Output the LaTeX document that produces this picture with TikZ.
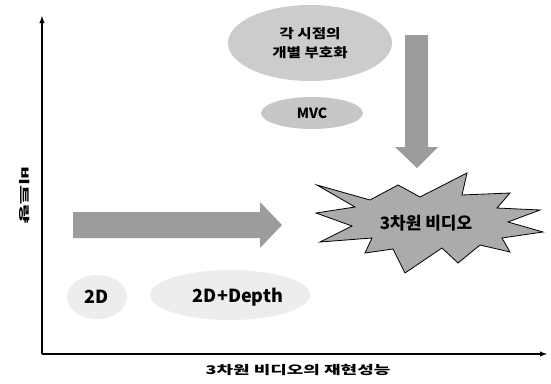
\documentclass[tikz,border=0pt]{standalone}
\usepackage{fontspec}
\setmainfont{Noto Sans CJK KR}
\usepackage{tikz}
\usetikzlibrary{shapes.geometric}

\tikzset{
  blob/.style={ellipse, fill=gray!40, inner sep=0pt},
  faint/.style={ellipse, fill=gray!14, inner sep=0pt},
  bigarrow/.style={fill=gray!78},
  label/.style={font=\bfseries\fontsize{#1}{#1}\selectfont},
  label/.default=12
}

\begin{document}
\begin{tikzpicture}[x=1pt,y=-1pt]
\useasboundingbox (0,0) rectangle (551,383) ;

\draw [line width=1.4pt, -{latex}] (42,354) -- (42,16) ;
\draw [line width=1.4pt, -{latex}] (42,354) -- (547,354) ;
\draw node (ylab) at (25,195) [rotate=-90, xscale=1.9, label=11] {비트량} ;
\draw node (xlab) at (298,370) [xscale=1.5, label=12] {3차원 비디오의 재현성능} ;

\draw node (each) at (310,43) [blob, minimum width=164, minimum height=76] {} ;
\draw node (eachtxt) at (310,43) [xscale=1.2, align=center, label=13] {각 시점의\\[6pt]개별 부호화} ;
\draw node (mvc) at (312,113) [blob, fill=gray!45, minimum width=102, minimum height=32, label=14] {MVC} ;

\fill [bigarrow] (405,35) -- (428,35) -- (428,147) -- (438,147) -- (417,168) -- (395,147) -- (405,147) -- cycle ;
\fill [bigarrow] (73,212) -- (260,212) -- (260,202) -- (282,225) -- (260,248) -- (260,238) -- (73,238) -- cycle ;

\draw [thick, fill=gray!66] (317,185) -- (370,200) -- (398,185) -- (420,197) -- (467,173) -- (462,195)
  -- (510,193) -- (497,208) -- (540,210) -- (508,222) -- (543,232) -- (502,238) -- (510,252)
  -- (480,245) -- (458,263) -- (442,248) -- (405,273) -- (393,249) -- (365,253) -- (372,238)
  -- (320,242) -- (352,226) -- (316,213) -- (355,207) -- cycle ;
\draw node (video) at (426,223) [label=17] {3차원 비디오} ;

\draw node (flat) at (97,297) [faint, minimum width=60, minimum height=44, label=18] {2D} ;
\draw node (depth) at (230,295) [faint, minimum width=160, minimum height=50] {} ;
\draw node (depthtxt) at (238,297) [label=18] {2D+Depth} ;
\end{tikzpicture}
\end{document}
